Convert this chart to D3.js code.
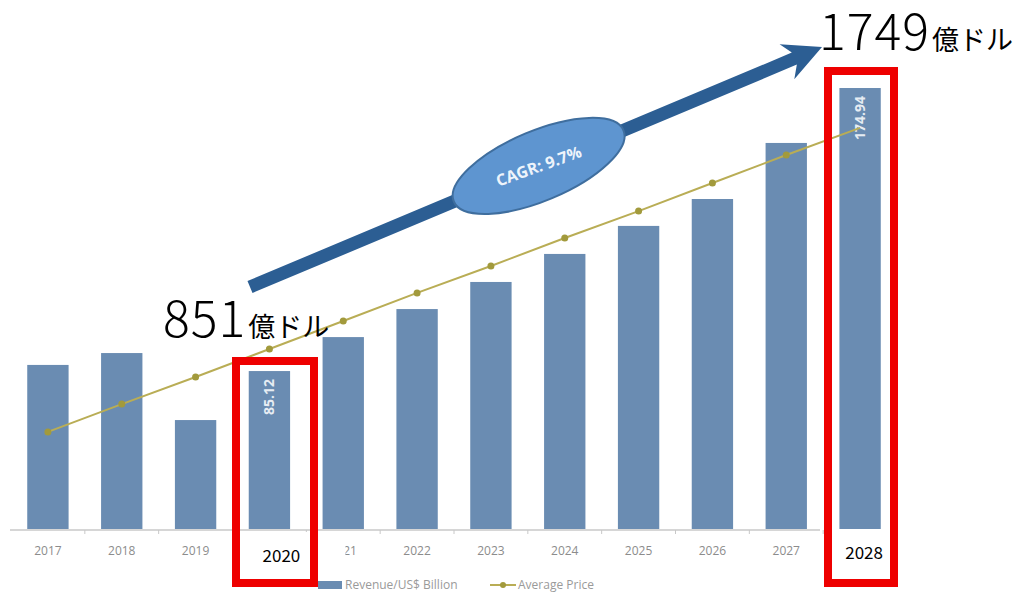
<!DOCTYPE html>
<html>
<head>
<meta charset="utf-8">
<script src="https://cdn.jsdelivr.net/npm/d3@7"></script>
<style>
  body { margin: 0; background: #fff; }
  svg { display: block; }
</style>
</head>
<body>
<div id="chart"></div>
<script>
// chart values
const years = ['2017', '2018', '2019', '2020', '2021', '2022', '2023', '2024', '2025', '2026', '2027', '2028'];
const revenue = [88.4, 94.8, 58.7, 85.1, 103.4, 118.5, 133.1, 148.2, 163.3, 177.8, 208.0, 237.6];
const avgPrice = [52.3, 67.3, 81.9, 97.0, 112.1, 127.2, 141.7, 156.8, 171.3, 186.4, 201.5, 216.1];
const barLabels = { '2020': '85.12', '2028': '174.94' };
const highlighted = ['2020', '2028'];
const callouts = [
  { year: '2020', big: '851', small: '億ドル' },
  { year: '2028', big: '1749', small: '億ドル' }
];
const cagrText = 'CAGR: 9.7%';
const legendItems = ['Revenue/US$ Billion', 'Average Price'];

const width = 1015;
const height = 592;
const baseY = 529;

const svg = d3.select('#chart')
  .append('svg')
  .attr('width', width)
  .attr('height', height);

const xScale = d3.scaleBand()
  .domain(years)
  .range([11, 897])
  .paddingInner(0.44)
  .paddingOuter(0.22);

const yScale = d3.scaleLinear()
  .domain([0, 250])
  .range([baseY, baseY - 250 * 1.856]);

const cx = (y) => xScale(y) + xScale.bandwidth() / 2;

// bars
svg.append('g')
  .selectAll('rect')
  .data(years)
  .join('rect')
  .attr('x', (d) => xScale(d))
  .attr('y', (d, i) => yScale(revenue[i]))
  .attr('width', xScale.bandwidth())
  .attr('height', (d, i) => baseY - yScale(revenue[i]))
  .attr('fill', '#6a8cb2');

// value labels inside bars
svg.append('g')
  .selectAll('text')
  .data(years.filter((d) => barLabels[d]))
  .join('text')
  .attr('transform', (d) => `translate(${cx(d) + 5}, ${yScale(revenue[years.indexOf(d)]) + 8}) rotate(-90)`)
  .attr('text-anchor', 'end')
  .attr('font-family', 'Open Sans, sans-serif')
  .attr('font-weight', 'bold')
  .attr('font-size', 14)
  .attr('fill', '#e6ecf3')
  .text((d) => barLabels[d]);

// x axis line + separators
const axisG = svg.append('g');
axisG.append('line')
  .attr('x1', 10).attr('x2', 820)
  .attr('y1', baseY + 1).attr('y2', baseY + 1)
  .attr('stroke', '#c8c8c8')
  .attr('stroke-width', 1.5);
axisG.selectAll('.sep')
  .data(years.slice(0, -1))
  .join('line')
  .attr('class', 'sep')
  .attr('x1', (d) => xScale(d) + xScale.step() - (xScale.step() - xScale.bandwidth()) / 2)
  .attr('x2', (d) => xScale(d) + xScale.step() - (xScale.step() - xScale.bandwidth()) / 2)
  .attr('y1', baseY + 1).attr('y2', baseY + 5)
  .attr('stroke', '#c8c8c8');
axisG.selectAll('.tick-label')
  .data(years.filter((d) => !highlighted.includes(d)))
  .join('text')
  .attr('class', 'tick-label')
  .attr('x', (d) => cx(d))
  .attr('y', 555)
  .attr('text-anchor', 'middle')
  .attr('font-family', 'Open Sans, sans-serif')
  .attr('font-size', 12)
  .attr('fill', '#8c8c8c')
  .text((d) => d);

// average price line
const line = d3.line()
  .x((d, i) => cx(years[i]))
  .y((d) => yScale(d));
svg.append('path')
  .datum(avgPrice)
  .attr('d', line)
  .attr('fill', 'none')
  .attr('stroke', '#b9ad55')
  .attr('stroke-width', 2);
svg.append('g')
  .selectAll('circle')
  .data(avgPrice.slice(0, -1))
  .join('circle')
  .attr('cx', (d, i) => cx(years[i]))
  .attr('cy', (d) => yScale(d))
  .attr('r', 3.5)
  .attr('fill', '#a29a3c');

// pasted white label patches with black year text
highlighted.forEach((yr) => {
  const w = yr === '2020' ? 106 : 56;
  svg.append('rect')
    .attr('x', cx(yr) - (yr === '2020' ? 30 : 28))
    .attr('y', baseY + 3)
    .attr('width', w)
    .attr('height', 50)
    .attr('fill', '#fff');
  svg.append('text')
    .attr('x', cx(yr) + (yr === '2020' ? 12 : 4))
    .attr('y', yr === '2020' ? 562 : 559)
    .attr('text-anchor', 'middle')
    .attr('font-family', 'Noto Sans CJK JP, sans-serif')
    .attr('font-size', 17)
    .attr('fill', '#000')
    .text(yr);
});

// red highlight boxes
svg.append('rect')
  .attr('x', 236).attr('y', 361).attr('width', 78).attr('height', 222)
  .attr('fill', 'none').attr('stroke', '#ee0000').attr('stroke-width', 8);
svg.append('rect')
  .attr('x', 828).attr('y', 71).attr('width', 66).attr('height', 512)
  .attr('fill', 'none').attr('stroke', '#ee0000').attr('stroke-width', 8);

// growth arrow
const start = [250, 287];
const tip = [822, 47];
const ang = Math.atan2(tip[1] - start[1], tip[0] - start[0]) * 180 / Math.PI;
const len = Math.hypot(tip[0] - start[0], tip[1] - start[1]);
const arrow = svg.append('g')
  .attr('transform', `translate(${start[0]}, ${start[1]}) rotate(${ang})`);
arrow.append('path')
  .attr('d', `M0,-6.5 L${len - 30},-6.5 L${len - 38},-19 L${len},0 L${len - 38},19 L${len - 30},6.5 L0,6.5 Z`)
  .attr('fill', '#2c5e93');
arrow.append('ellipse')
  .attr('cx', 313).attr('cy', 0)
  .attr('rx', 92).attr('ry', 35)
  .attr('fill', '#5e95d0')
  .attr('stroke', '#3f6e9e')
  .attr('stroke-width', 2);
arrow.append('text')
  .attr('x', 313).attr('y', 6)
  .attr('text-anchor', 'middle')
  .attr('transform', 'rotate(3, 313, 0)')
  .attr('font-family', 'Open Sans, sans-serif')
  .attr('font-weight', 'bold')
  .attr('font-size', 16)
  .attr('fill', '#eef4fb')
  .text(cagrText);

// big callout numbers
const calloutPos = { '2020': [163, 337], '2028': [819, 50] };
callouts.forEach((c) => {
  const t = svg.append('text')
    .attr('x', calloutPos[c.year][0])
    .attr('y', calloutPos[c.year][1])
    .attr('font-family', 'Noto Sans CJK JP, sans-serif')
    .attr('fill', '#000');
  t.append('tspan').attr('font-size', 50).attr('font-weight', 300)
    .attr('letter-spacing', 1).text(c.big);
  t.append('tspan').attr('font-size', 27).attr('dx', 2).text(c.small);
});

// legend
const lg = svg.append('g').attr('transform', 'translate(318, 585)');
lg.append('rect').attr('x', 0).attr('y', -4).attr('width', 24).attr('height', 8).attr('fill', '#6a8cb2');
lg.append('text').attr('x', 27).attr('y', 4)
  .attr('font-family', 'Open Sans, sans-serif').attr('font-size', 12).attr('fill', '#9a9a9a')
  .text(legendItems[0]);
lg.append('line').attr('x1', 172).attr('x2', 198).attr('y1', 0).attr('y2', 0)
  .attr('stroke', '#b9ad55').attr('stroke-width', 2);
lg.append('circle').attr('cx', 185).attr('cy', 0).attr('r', 3).attr('fill', '#a29a3c');
lg.append('text').attr('x', 200).attr('y', 4)
  .attr('font-family', 'Open Sans, sans-serif').attr('font-size', 12).attr('fill', '#9a9a9a')
  .text(legendItems[1]);
</script>
</body>
</html>
